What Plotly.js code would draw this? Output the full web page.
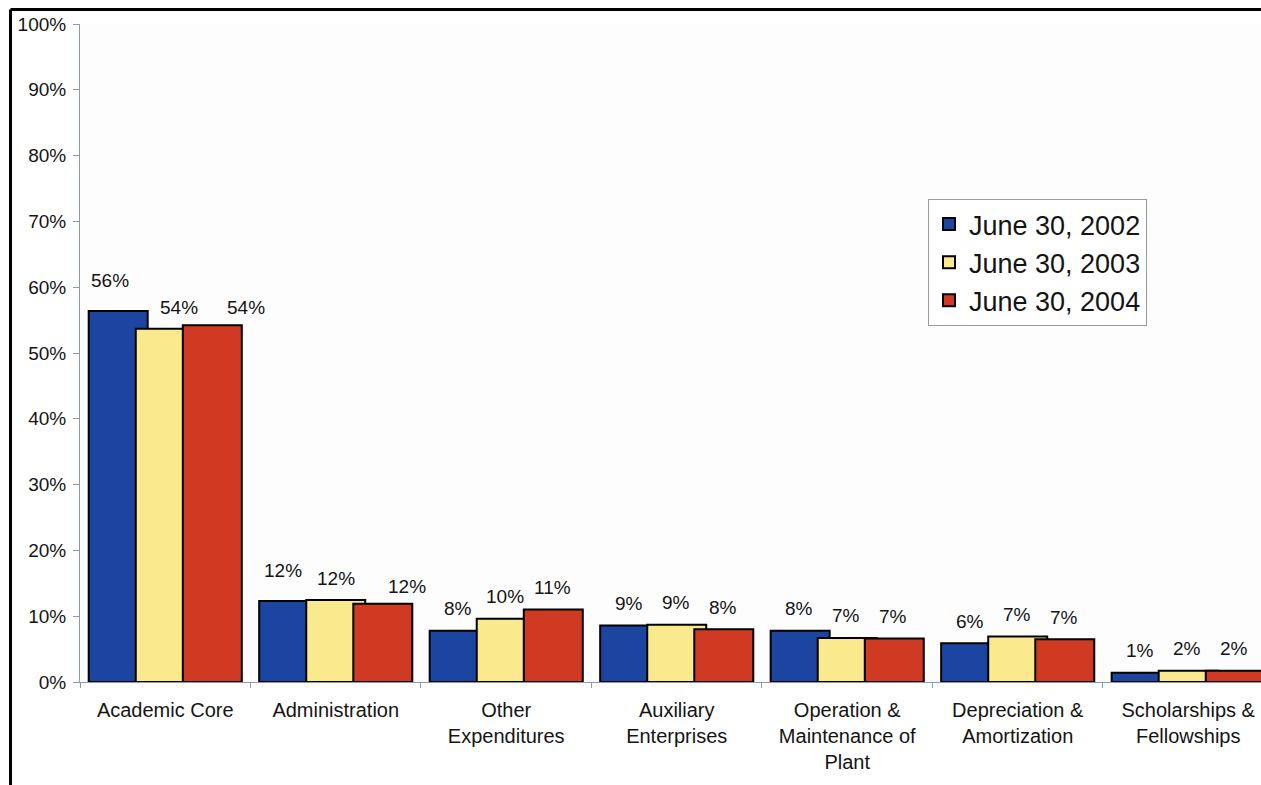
<!DOCTYPE html>
<html>
<head>
<meta charset="utf-8">
<script src="https://cdn.plot.ly/plotly-3.0.1.min.js"></script>
<style>
  html, body { margin: 0; padding: 0; background: #ffffff; }
  #chart { width: 1261px; height: 785px; }
</style>
</head>
<body>
<div id="chart"></div>
<script>
// ---- data ----
const categories = [
  "Academic Core",
  "Administration",
  "Other<br>Expenditures",
  "Auxiliary<br>Enterprises",
  "Operation &<br>Maintenance of<br>Plant",
  "Depreciation &<br>Amortization",
  "Scholarships &<br>Fellowships"
];
const seriesNames = ["June 30, 2002", "June 30, 2003", "June 30, 2004"];
const values2002 = [56.4, 12.3, 7.8, 8.6, 7.8, 5.9, 1.4];
const values2003 = [53.7, 12.45, 9.6, 8.7, 6.7, 6.9, 1.7];
const values2004 = [54.2, 11.9, 11.0, 8.0, 6.6, 6.5, 1.7];
const yTickValues = [0, 10, 20, 30, 40, 50, 60, 70, 80, 90, 100];

// ---- style ----
const allValues = [values2002, values2003, values2004];
const colors = ["#1c45a2", "#fbe98e", "#d03a22"];
const barWidth = 0.346;
const barOffsets = [-0.449, -0.173, 0.103];
const FONT = "Liberation Sans, Arial, Helvetica, sans-serif";
const axisColor = "#8d9aab";
const textColor = "#141414";

// manual label nudges (pixels) for labels placed by hand in the original
const nudges = {
  "0,0": [-8, 30], "1,0": [14, 21], "2,0": [34, 18],
  "0,1": [-6, 31], "1,1": [0, 22], "2,1": [24, 17]
};

const traces = allValues.map((vals, s) => ({
  type: "bar",
  name: seriesNames[s],
  legendgroup: "g" + s,
  x: categories,
  y: vals,
  width: barWidth,
  offset: barOffsets[s],
  marker: { color: colors[s], line: { color: "#000000", width: 2 } },
  hoverinfo: "x+y"
}));

const annotations = [];
allValues.forEach((vals, s) => {
  vals.forEach((v, c) => {
    const n = nudges[s + "," + c] || [-1, 22];
    annotations.push({
      x: c + barOffsets[s] + barWidth / 2,
      y: v,
      xref: "x", yref: "y",
      text: Math.round(v) + "%",
      showarrow: false,
      xanchor: "center", yanchor: "middle",
      xshift: n[0], yshift: n[1],
      font: { family: FONT, size: 19, color: textColor }
    });
  });
});

// frame (black border at top and left)
const frameX = (10.5 - 80) / 1181;
const frameY = 1 + (24 - 9.5) / 658;
const shapes = [
  { type: "line", xref: "paper", yref: "paper", x0: frameX, x1: frameX, y0: -0.2, y1: frameY,
    line: { color: "#000000", width: 3 } },
  { type: "line", xref: "paper", yref: "paper", x0: frameX, x1: 1.05, y0: frameY, y1: frameY,
    line: { color: "#000000", width: 3 } }
];

const layout = {
  width: 1261,
  height: 785,
  margin: { l: 80, r: 0, t: 24, b: 103, pad: 0 },
  paper_bgcolor: "#ffffff",
  plot_bgcolor: "#fdfdfe",
  barmode: "overlay",
  font: { family: FONT, color: textColor },
  showlegend: true,
  legend: {
    x: (928 - 80) / 1181,
    y: 1 - (199 - 24) / 658,
    xanchor: "left", yanchor: "top",
    bgcolor: "#ffffff",
    bordercolor: "#9a9a9a",
    borderwidth: 1,
    font: { family: FONT, size: 27, color: textColor },
    tracegroupgap: 3,
    traceorder: "normal"
  },
  xaxis: {
    type: "category",
    range: [-0.5, 6.427],
    showline: true,
    linecolor: axisColor,
    linewidth: 1,
    ticks: "outside",
    tickson: "boundaries",
    ticklen: 5,
    tickcolor: axisColor,
    ticklabelstandoff: 10,
    showgrid: false,
    zeroline: false,
    fixedrange: true,
    tickfont: { family: FONT, size: 20, color: textColor }
  },
  yaxis: {
    range: [0, 100],
    tickmode: "array",
    tickvals: yTickValues,
    ticktext: yTickValues.map(v => v + "%"),
    showline: true,
    linecolor: axisColor,
    linewidth: 1,
    ticks: "outside",
    ticklen: 6,
    tickcolor: axisColor,
    ticklabelstandoff: 3,
    showgrid: false,
    zeroline: false,
    fixedrange: true,
    tickfont: { family: FONT, size: 19, color: textColor }
  },
  annotations: annotations,
  shapes: shapes
};

Plotly.newPlot("chart", traces, layout, { displayModeBar: false, staticPlot: true });
</script>
</body>
</html>
